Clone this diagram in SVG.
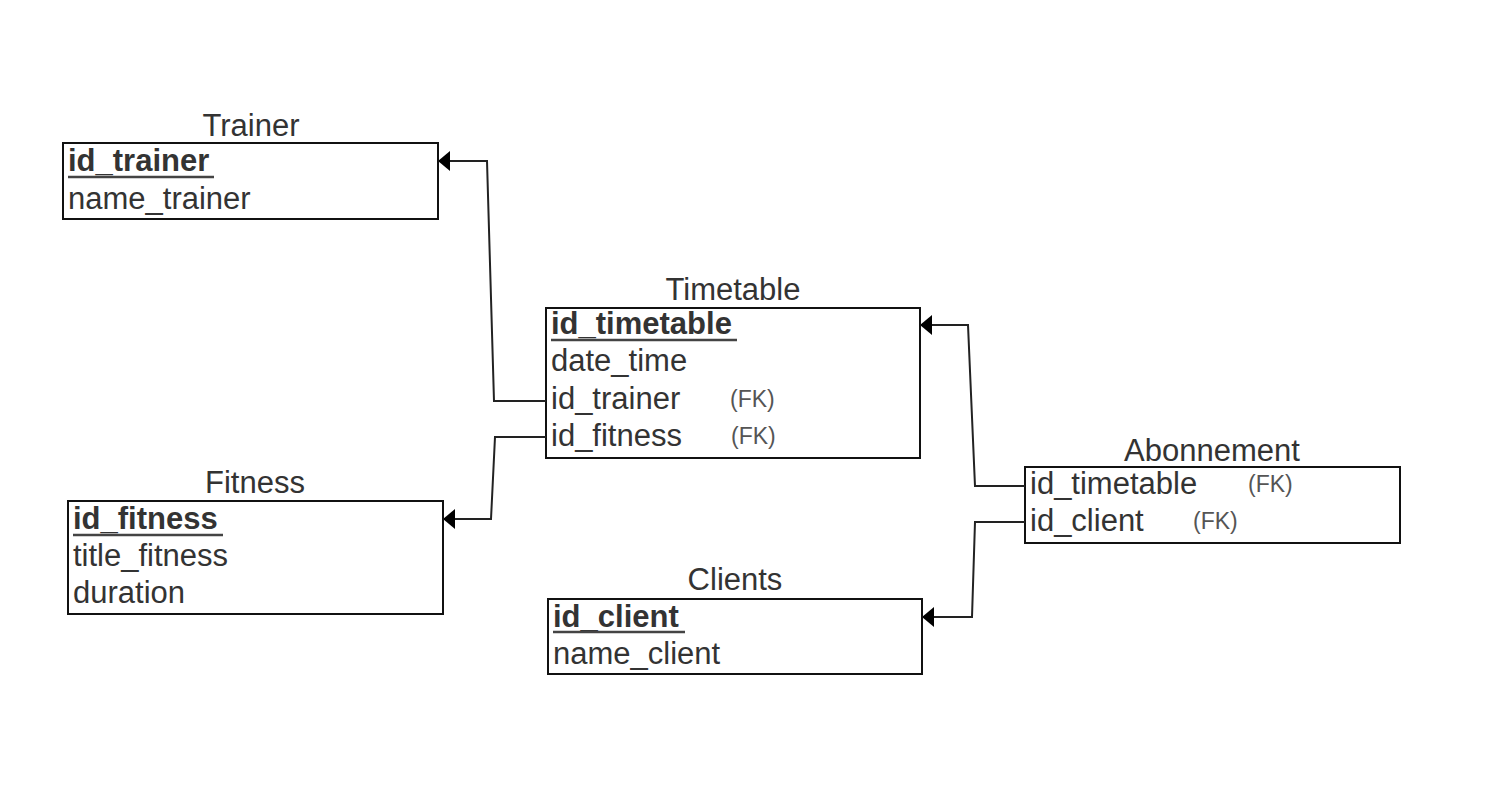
<svg xmlns="http://www.w3.org/2000/svg" width="1496" height="806" viewBox="0 0 1496 806">
<style>
.box{fill:#fff;stroke:#111;stroke-width:2}
.t{font-family:"Liberation Sans",Arial,sans-serif;font-size:31px;fill:#333}
.title{text-anchor:middle}
.pk{font-weight:bold}
.fk{font-family:"Liberation Sans",Arial,sans-serif;font-size:23px;fill:#555}
.ul{stroke:#444;stroke-width:2.5}
.c{fill:none;stroke:#222;stroke-width:2}
</style>
<defs>
<marker id="arr" markerUnits="userSpaceOnUse" markerWidth="14" markerHeight="24" refX="13" refY="12" orient="auto" viewBox="0 0 14 24">
<path d="M13,12 L1,2 L1,22 Z" fill="#000"/>
</marker>
</defs>
<rect width="1496" height="806" fill="#fff"/>
<g id="trainer">
<text class="t title" x="251" y="136">Trainer</text>
<rect class="box" x="63" y="143" width="375" height="76"/>
<text class="t pk" x="68" y="171">id_trainer</text>
<line class="ul" x1="68" y1="177" x2="214" y2="177"/>
<text class="t" x="68" y="209">name_trainer</text>
</g>
<g id="timetable">
<text class="t title" x="733" y="300">Timetable</text>
<rect class="box" x="546" y="308" width="374" height="150"/>
<text class="t pk" x="551" y="334">id_timetable</text>
<line class="ul" x1="551" y1="340" x2="737" y2="340"/>
<text class="t" x="551" y="371">date_time</text>
<text class="t" x="551" y="409">id_trainer</text>
<text class="fk" x="730" y="407">(FK)</text>
<text class="t" x="551" y="446">id_fitness</text>
<text class="fk" x="731" y="444">(FK)</text>
</g>
<g id="fitness">
<text class="t title" x="255" y="493">Fitness</text>
<rect class="box" x="68" y="501" width="375" height="113"/>
<text class="t pk" x="73" y="529">id_fitness</text>
<line class="ul" x1="73" y1="535" x2="223" y2="535"/>
<text class="t" x="73" y="566">title_fitness</text>
<text class="t" x="73" y="603">duration</text>
</g>
<g id="clients">
<text class="t title" x="735" y="590">Clients</text>
<rect class="box" x="548" y="599" width="374" height="75"/>
<text class="t pk" x="553" y="627">id_client</text>
<line class="ul" x1="553" y1="632" x2="685" y2="632"/>
<text class="t" x="553" y="664">name_client</text>
</g>
<g id="abonnement">
<text class="t title" x="1212" y="461">Abonnement</text>
<rect class="box" x="1025" y="467" width="375" height="76"/>
<text class="t" x="1030" y="494">id_timetable</text>
<text class="fk" x="1248" y="492">(FK)</text>
<text class="t" x="1030" y="531">id_client</text>
<text class="fk" x="1193" y="529">(FK)</text>
</g>
<g id="connectors">
<path class="c" d="M546,401 H494 L487,161 H438" marker-end="url(#arr)"/>
<path class="c" d="M546,437 H495 L491,519 H443" marker-end="url(#arr)"/>
<path class="c" d="M1025,486 H975 L968,325 H920" marker-end="url(#arr)"/>
<path class="c" d="M1025,522 H975 L972,617 H922" marker-end="url(#arr)"/>
</g>
</svg>
